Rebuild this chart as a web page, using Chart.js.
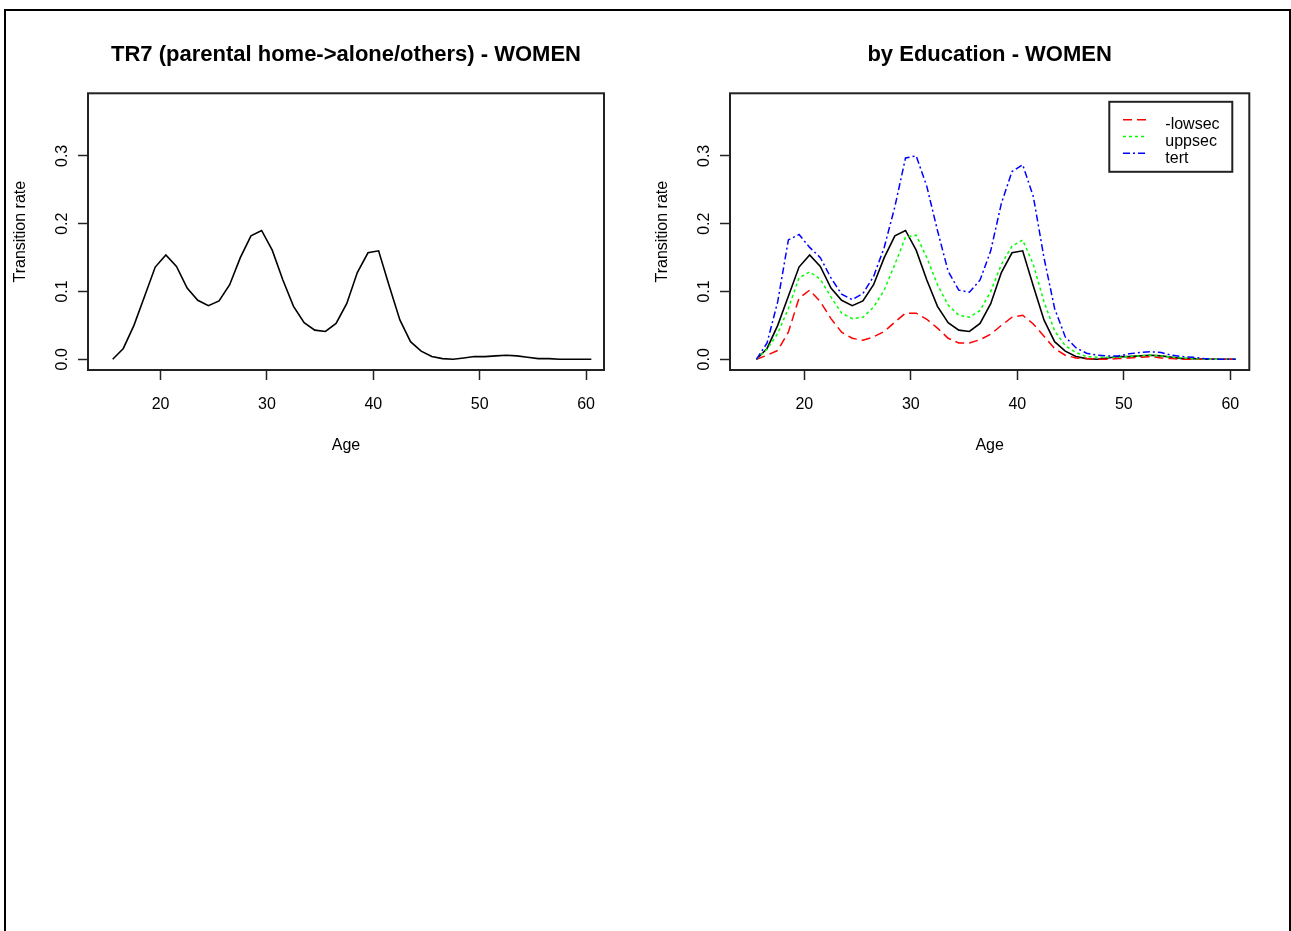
<!DOCTYPE html>
<html>
<head>
<meta charset="utf-8">
<script src="https://cdn.jsdelivr.net/npm/chart.js@4.4.1/dist/chart.umd.min.js"></script>
<style>
  html, body { margin: 0; padding: 0; background: #fff; overflow: hidden; }
  body { width: 1291px; height: 931px; position: relative; }
  #frame { position: absolute; left: 4px; top: 9px; width: 1283px; height: 1000px; border: 2px solid #000; border-bottom: none; }
  canvas { position: absolute; top: 0; }
  #left { left: 0; }
  #right { left: 642px; }
</style>
</head>
<body>
<div id="frame"></div>
<canvas id="left" width="645" height="470"></canvas>
<canvas id="right" width="649" height="470"></canvas>
<script>
// ages (mid-year) and transition rates
const ages = [15.5, 16.5, 17.5, 18.5, 19.5, 20.5, 21.5, 22.5, 23.5, 24.5,
  25.5, 26.5, 27.5, 28.5, 29.5, 30.5, 31.5, 32.5, 33.5, 34.5,
  35.5, 36.5, 37.5, 38.5, 39.5, 40.5, 41.5, 42.5, 43.5, 44.5,
  45.5, 46.5, 47.5, 48.5, 49.5, 50.5, 51.5, 52.5, 53.5, 54.5,
  55.5, 56.5, 57.5, 58.5, 59.5, 60.5];

const overall = [0.000, 0.016, 0.050, 0.093, 0.136, 0.154, 0.137, 0.105, 0.087, 0.079,
  0.086, 0.110, 0.150, 0.182, 0.190, 0.161, 0.117, 0.078, 0.054, 0.043,
  0.041, 0.053, 0.082, 0.128, 0.157, 0.160, 0.108, 0.058, 0.026, 0.012,
  0.004, 0.001, 0.000, 0.002, 0.004, 0.004, 0.005, 0.006, 0.005, 0.003,
  0.001, 0.001, 0.000, 0.000, 0.000, 0.000];

const lowsec = [0.000, 0.006, 0.013, 0.040, 0.090, 0.102, 0.085, 0.060, 0.040, 0.031,
  0.028, 0.033, 0.041, 0.055, 0.068, 0.068, 0.059, 0.046, 0.031, 0.024,
  0.024, 0.029, 0.037, 0.050, 0.062, 0.065, 0.052, 0.034, 0.016, 0.006,
  0.002, 0.001, 0.000, 0.000, 0.001, 0.002, 0.003, 0.004, 0.002, 0.001,
  0.000, 0.000, 0.000, 0.000, 0.000, 0.000];

const uppsec = [0.000, 0.015, 0.038, 0.075, 0.120, 0.129, 0.118, 0.092, 0.068, 0.060,
  0.062, 0.077, 0.102, 0.140, 0.180, 0.183, 0.150, 0.110, 0.080, 0.065,
  0.062, 0.072, 0.100, 0.140, 0.167, 0.176, 0.140, 0.085, 0.042, 0.020,
  0.010, 0.004, 0.003, 0.003, 0.003, 0.004, 0.005, 0.006, 0.005, 0.003,
  0.002, 0.001, 0.000, 0.000, 0.000, 0.000];

const tert = [0.000, 0.024, 0.085, 0.176, 0.184, 0.165, 0.150, 0.120, 0.096, 0.088,
  0.097, 0.122, 0.165, 0.225, 0.297, 0.300, 0.255, 0.190, 0.130, 0.102,
  0.099, 0.117, 0.160, 0.230, 0.277, 0.287, 0.240, 0.150, 0.075, 0.033,
  0.017, 0.009, 0.006, 0.005, 0.005, 0.008, 0.010, 0.011, 0.010, 0.006,
  0.004, 0.003, 0.001, 0.000, 0.000, 0.000];

const yMin = -0.0158, yMax = 0.3923;
const font = "'Liberation Sans', Arial, sans-serif";

Chart.defaults.font.family = font;
Chart.defaults.color = '#000';

const pts = (vals) => ages.map((a, i) => ({ x: a, y: vals[i] }));

// box round the plot region, like R's box()
const plotBox = {
  id: 'plotBox',
  afterDraw(chart) {
    const { ctx, chartArea: a } = chart;
    ctx.save();
    ctx.strokeStyle = '#222';
    ctx.lineWidth = 2;
    ctx.strokeRect(a.left, a.top, a.right - a.left, a.bottom - a.top);
    ctx.restore();
  }
};

// R style legend inside the plot, top right
const boxLegend = {
  id: 'boxLegend',
  afterDraw(chart, args, opts) {
    if (!opts.show) return;
    const { ctx, chartArea: a } = chart;
    const w = 123, h = 70;
    const x = a.right - 17 - w, y = a.top + 8.5;
    ctx.save();
    ctx.fillStyle = '#fff';
    ctx.fillRect(x, y, w, h);
    ctx.strokeStyle = '#222';
    ctx.lineWidth = 2;
    ctx.strokeRect(x, y, w, h);
    ctx.font = '16px ' + font;
    ctx.textBaseline = 'middle';
    ctx.fillStyle = '#000';
    chart.data.datasets.filter(d => d.inLegend).forEach((d, i) => {
      const ly = y + 18 + i * 16.7;
      ctx.strokeStyle = d.borderColor;
      ctx.lineWidth = d.borderWidth;
      ctx.setLineDash(d.borderDash || []);
      ctx.beginPath();
      ctx.moveTo(x + 13.7, ly);
      ctx.lineTo(x + 37.7, ly);
      ctx.stroke();
      ctx.setLineDash([]);
      ctx.fillText(d.label, x + 56, ly + 5);
    });
    ctx.restore();
  }
};

const tickGrid = { drawOnChartArea: false, drawTicks: true, tickLength: 10, tickWidth: 1.5, tickColor: '#222' };

function panel(id, title, datasets, xMin, xMax, padRight, showLegend) {
  return new Chart(document.getElementById(id), {
    type: 'line',
    data: { datasets },
    plugins: [plotBox, boxLegend],
    options: {
      responsive: false,
      animation: false,
      layout: { padding: { left: 0, right: padRight, top: 0, bottom: 0 } },
      elements: { point: { radius: 0 }, line: { tension: 0 } },
      plugins: {
        legend: { display: false },
        tooltip: { enabled: false },
        title: {
          display: true, text: title, fullSize: false, color: '#000',
          font: { size: 22, weight: 'bold' },
          padding: { top: 42.2, bottom: 24.7 }
        },
        boxLegend: { show: showLegend }
      },
      scales: {
        x: {
          type: 'linear', min: xMin, max: xMax,
          afterFit(s) { s.height = 100; },
          border: { display: false },
          grid: tickGrid,
          ticks: { stepSize: 10, includeBounds: false, autoSkip: false, maxRotation: 0, padding: 15, font: { size: 16 }, color: '#000' },
          title: { display: true, text: 'Age', color: '#000', font: { size: 16 }, padding: { top: 0, bottom: 14.4 } }
        },
        y: {
          min: yMin, max: yMax,
          afterFit(s) { s.width = 88; },
          border: { display: false },
          grid: tickGrid,
          ticks: {
            stepSize: 0.1, includeBounds: false, minRotation: 90, maxRotation: 90,
            crossAlign: 'center', padding: 4, font: { size: 16 }, color: '#000',
            callback: v => Math.abs(v).toFixed(1)
          },
          title: { display: true, text: 'Transition rate', color: '#000', font: { size: 16 }, padding: { top: 11.4, bottom: 0 } }
        }
      }
    }
  });
}

panel('left', 'TR7 (parental home->alone/others) - WOMEN', [
  { label: 'all', data: pts(overall), borderColor: '#000', borderWidth: 1.6 }
], 13.18, 61.69, 41, false);

panel('right', 'by Education - WOMEN', [
  { label: 'all', data: pts(overall), borderColor: '#000', borderWidth: 1.6, order: 4 },
  { label: '-lowsec', data: pts(lowsec), borderColor: '#ff0000', borderWidth: 1.5, borderDash: [9, 5], order: 3, inLegend: true },
  { label: 'uppsec', data: pts(uppsec), borderColor: '#00ff00', borderWidth: 1.5, borderDash: [3, 3], order: 2, inLegend: true },
  { label: 'tert', data: pts(tert), borderColor: '#0000ff', borderWidth: 1.5, borderDash: [7, 3, 2, 3], order: 1, inLegend: true }
], 13.02, 61.78, 41.7, true);
</script>
</body>
</html>
